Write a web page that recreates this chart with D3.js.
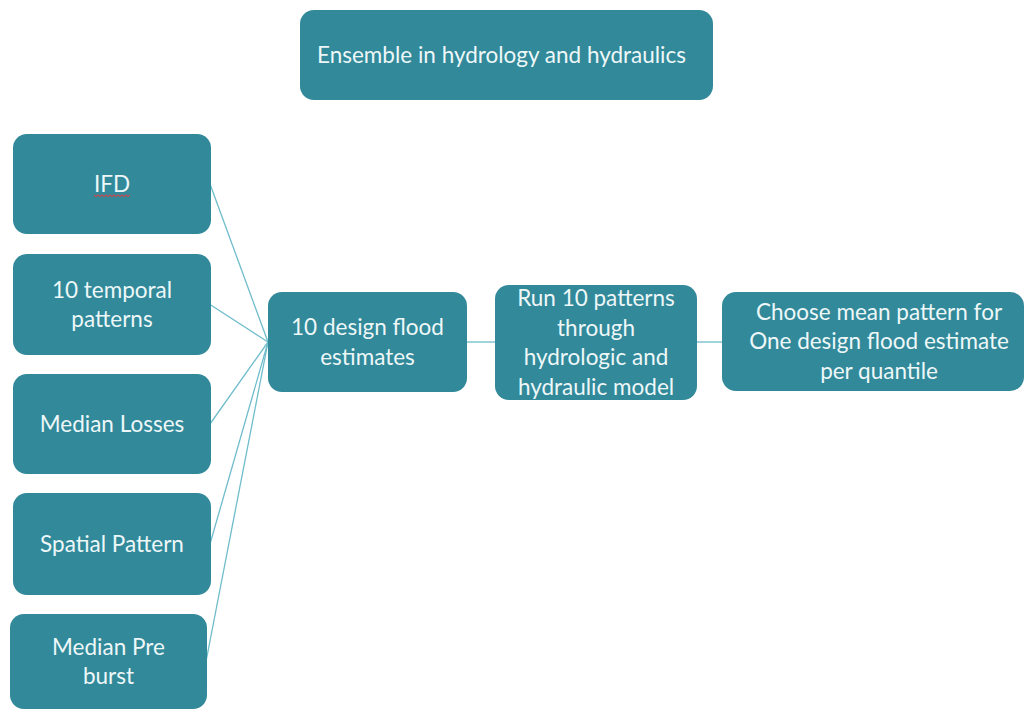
<!DOCTYPE html>
<html>
<head>
<meta charset="utf-8">
<script src="https://cdn.jsdelivr.net/npm/d3@7"></script>
<style>
  html, body { margin: 0; padding: 0; background: #ffffff; }
  svg { display: block; }
</style>
</head>
<body>
<svg id="chart" width="1026" height="711"></svg>
<script>
// ---- data ----
const titleLabel = ["Ensemble in hydrology and hydraulics"];
const inputLabels = [
  ["IFD"],
  ["10 temporal", "patterns"],
  ["Median Losses"],
  ["Spatial Pattern"],
  ["Median Pre", "burst"]
];
const flowLabels = [
  ["10 design flood", "estimates"],
  ["Run 10 patterns", "through", "hydrologic and", "hydraulic model"],
  ["Choose mean pattern for", "One design flood estimate", "per quantile"]
];
const spellFlagged = ["IFD"];

// ---- layout (pixel geometry, kept separate from data) ----
const inputBoxes = [
  {x0: 13, x1: 211, y0: 134, y1: 234},
  {x0: 13, x1: 211, y0: 254, y1: 355},
  {x0: 13, x1: 211, y0: 374, y1: 474},
  {x0: 13, x1: 211, y0: 493, y1: 595},
  {x0: 10, x1: 207, y0: 614, y1: 709}
];
const flowBoxes = [
  {x0: 268, x1: 467, y0: 292, y1: 392},
  {x0: 495, x1: 697, y0: 285, y1: 400},
  {x0: 722, x1: 1024, y0: 292, y1: 391}
];
const titleBox = {x0: 300, x1: 713, y0: 10, y1: 100};

const FILL = "#31899a";
const LINE = "#6fbccb";
const TEXT = "#eef7f8";
const FONT = "Lato, 'Open Sans', sans-serif";
const FS = 22.5;
const LH = 29.5;

const svg = d3.select("#chart");
const gLines = svg.append("g");
const gBoxes = svg.append("g");

// connectors from inputs to the design-flood node
const target = flowBoxes[0];
const tx = target.x0, ty = (target.y0 + target.y1) / 2;
gLines.selectAll("line.in").data(inputBoxes).join("line")
  .attr("class", "in")
  .attr("x1", d => d.x1 - 1).attr("y1", d => (d.y0 + d.y1) / 2)
  .attr("x2", tx).attr("y2", ty)
  .attr("stroke", LINE).attr("stroke-width", 1.3);

// connectors along the flow
const pairs = d3.pairs(flowBoxes);
gLines.selectAll("line.flow").data(pairs).join("line")
  .attr("class", "flow")
  .attr("x1", d => d[0].x1).attr("y1", ty)
  .attr("x2", d => d[1].x0).attr("y2", ty)
  .attr("stroke", LINE).attr("stroke-width", 1.3);

function drawBox(g, box, lines, dx) {
  g.append("rect")
    .attr("x", box.x0).attr("y", box.y0)
    .attr("width", box.x1 - box.x0).attr("height", box.y1 - box.y0)
    .attr("rx", 14).attr("ry", 14)
    .attr("fill", FILL);
  const cx = (box.x0 + box.x1) / 2 + (dx || 0);
  const cy = (box.y0 + box.y1) / 2;
  const startY = cy - (lines.length - 1) * LH / 2;
  const t = g.append("text")
    .attr("text-anchor", "middle")
    .attr("font-family", FONT)
    .attr("font-size", FS)
    .attr("fill", TEXT);
  lines.forEach((ln, i) => {
    t.append("tspan")
      .attr("x", cx)
      .attr("y", startY + i * LH)
      .attr("dy", "0.35em")
      .text(ln);
  });
  return t;
}

drawBox(gBoxes, titleBox, titleLabel, -5);
inputBoxes.forEach((b, i) => {
  const t = drawBox(gBoxes, b, inputLabels[i]);
  if (spellFlagged.includes(inputLabels[i][0])) {
    const bb = t.node().getBBox();
    const y = (b.y0 + b.y1) / 2 + 11;
    const pts = d3.range(bb.x, bb.x + bb.width + 1, 2).map((x, k) => [x, y + (k % 2 ? 1.6 : 0)]);
    gBoxes.append("path")
      .attr("d", d3.line()(pts))
      .attr("fill", "none").attr("stroke", "#c9474a").attr("stroke-width", 1.1);
  }
});
flowBoxes.forEach((b, i) => drawBox(gBoxes, b, flowLabels[i], i === 2 ? 6 : 0));
</script>
</body>
</html>
